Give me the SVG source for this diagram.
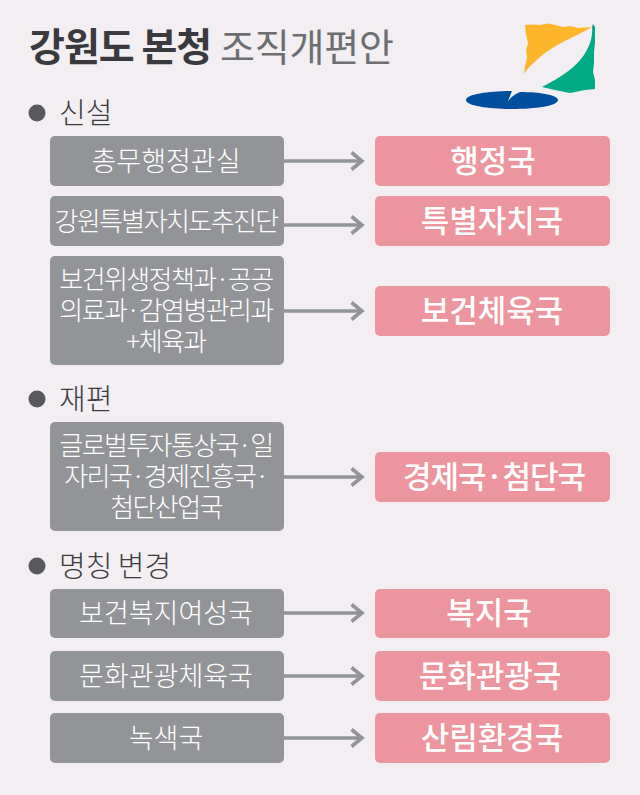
<svg xmlns="http://www.w3.org/2000/svg" width="640" height="795" viewBox="0 0 640 795">
<defs>
<style>
text{font-family:"Noto Sans CJK KR","Noto Sans",sans-serif}
.l{fill:#929497;stroke:none}
.r{fill:#ed959e;stroke:none}
.lt{fill:#fff;font-size:27px;font-weight:300;text-anchor:middle}
.tt{font-size:26px;letter-spacing:-1.6px}
.rt{fill:#fff;font-size:31px;font-weight:500;text-anchor:middle}
.h{fill:#3c3c40;font-size:29px;font-weight:300}
.c{fill:#58595b}
.a{fill:none;stroke:#929497;stroke-width:3.6}
</style>
<marker id="ah" markerUnits="userSpaceOnUse" markerWidth="20" markerHeight="24" refX="14" refY="12" orient="auto"><path d="M3.5 3.5L14 12L3.5 20.500" fill="none" stroke="#929497" stroke-width="3.600"/></marker>
</defs>
<rect width="640" height="795" fill="#f2eef2"/>
<g id="title"><text x="29" y="61" font-size="39" font-weight="700" fill="#3a3a3e" letter-spacing="-1">강원도 본청</text><text x="220" y="61" font-size="38" fill="#6d6e71" letter-spacing="-0.2">조직개편안</text></g>
<g id="logo">
<path d="M525 25L532 24.500L540 25L548 23.500L555 25L563 27L570 26L578 28L592 27C575 37 553 45 540 57C532 64 527 69 524 74L525 66L527 58L526 50L528 43L526 35Z" fill="#fdb52a"/>
<path d="M593 24L595 27L595 43L594 52L594 63L593 72L595 80L595 89L585 90L570 93L555 90L542 87C560 78 575 68 584 55C590 46 593 36 592 27Z" fill="#00aa85"/>
<path d="M512 91C490 91 466 94 466 100C466 106 490 109 512 109C535 109 558 106 558 100C558 95 540 92 520 92C515 94 511 97 508 101Z" fill="#004f9f"/>
</g>
<g id="connectors">
<path class="a" d="M284 161H362" marker-end="url(#ah)"/>
<path class="a" d="M284 225H362" marker-end="url(#ah)"/>
<path class="a" d="M284 311H362" marker-end="url(#ah)"/>
<path class="a" d="M284 477H362" marker-end="url(#ah)"/>
<path class="a" d="M284 613H362" marker-end="url(#ah)"/>
<path class="a" d="M284 676H362" marker-end="url(#ah)"/>
<path class="a" d="M284 738H362" marker-end="url(#ah)"/>
</g>
<g id="sec1"><circle class="c" cx="37" cy="113" r="8.500"/><text class="h" x="59" y="124">신설</text></g>
<g id="sec2"><circle class="c" cx="37" cy="399" r="8.500"/><text class="h" x="59" y="410">재편</text></g>
<g id="sec3"><circle class="c" cx="37" cy="566" r="8.500"/><text class="h" x="59" y="577" word-spacing="-1">명칭 변경</text></g>
<g id="n1"><rect class="l" x="50" y="136" width="234" height="50" rx="5"/><text class="lt" x="166" y="171">총무행정관실</text></g>
<g id="n2"><rect class="l" x="50" y="196" width="234" height="50" rx="5"/><text class="lt tt" x="166" y="231">강원특별자치도추진단</text></g>
<g id="n3"><rect class="l" x="50" y="256" width="234" height="109" rx="5"/><text class="lt tt" x="166" y="289">보건위생정책과·공공</text><text class="lt tt" x="166" y="320">의료과·감염병관리과</text><text class="lt tt" x="166" y="351">+체육과</text></g>
<g id="n4"><rect class="l" x="50" y="422" width="234" height="109" rx="5"/><text class="lt tt" x="166" y="455">글로벌투자통상국·일</text><text class="lt tt" x="166" y="486">자리국·경제진흥국·</text><text class="lt tt" x="166" y="517">첨단산업국</text></g>
<g id="n5"><rect class="l" x="50" y="589" width="234" height="49" rx="5"/><text class="lt" x="166" y="623">보건복지여성국</text></g>
<g id="n6"><rect class="l" x="50" y="651" width="234" height="50" rx="5"/><text class="lt" x="166" y="686">문화관광체육국</text></g>
<g id="n7"><rect class="l" x="50" y="713" width="234" height="50" rx="5"/><text class="lt" x="166" y="748">녹색국</text></g>
<g id="r1"><rect class="r" x="375" y="136" width="235" height="50" rx="5"/><text class="rt" x="493" y="172">행정국</text></g>
<g id="r2"><rect class="r" x="375" y="196" width="235" height="50" rx="5"/><text class="rt" x="492" y="232">특별자치국</text></g>
<g id="r3"><rect class="r" x="375" y="286" width="235" height="50" rx="5"/><text class="rt" x="492" y="322">보건체육국</text></g>
<g id="r4"><rect class="r" x="375" y="452" width="235" height="50" rx="5"/><text class="rt" x="494" y="488" letter-spacing="-1">경제국·첨단국</text></g>
<g id="r5"><rect class="r" x="375" y="589" width="235" height="49" rx="5"/><text class="rt" x="489" y="624">복지국</text></g>
<g id="r6"><rect class="r" x="375" y="651" width="235" height="50" rx="5"/><text class="rt" x="490" y="687">문화관광국</text></g>
<g id="r7"><rect class="r" x="375" y="713" width="235" height="50" rx="5"/><text class="rt" x="492" y="749">산림환경국</text></g>
</svg>
